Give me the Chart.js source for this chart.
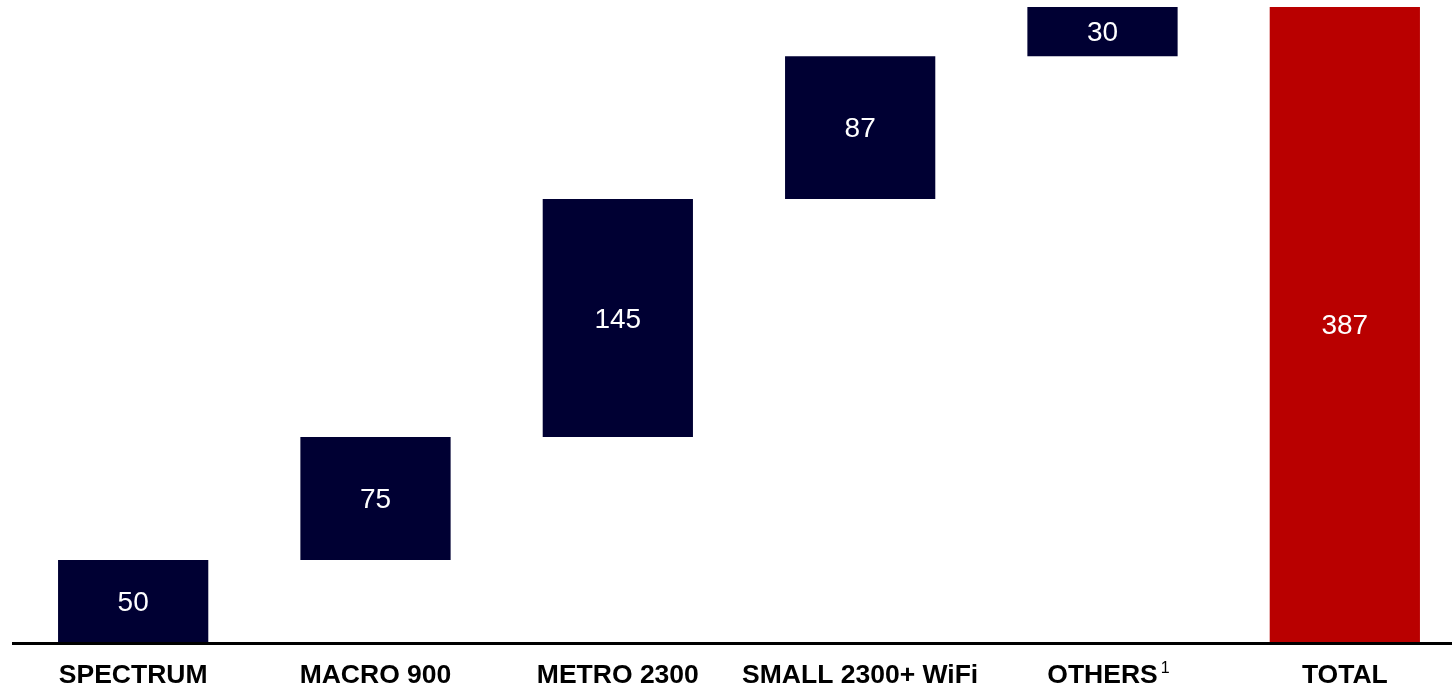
<!DOCTYPE html>
<html>
<head>
<meta charset="utf-8">
<script src="https://cdn.jsdelivr.net/npm/chart.js@4/dist/chart.umd.min.js"></script>
<style>
  html, body { margin:0; padding:0; background:#fff; overflow:hidden; }
  #wrap { width:1466px; height:689px; }
</style>
</head>
<body>
<div id="wrap"><canvas id="waterfall"></canvas></div>
<script>
const categories = ['SPECTRUM', 'MACRO 900', 'METRO 2300', 'SMALL 2300+ WiFi', 'OTHERS', 'TOTAL'];
const increments = [50, 75, 145, 87, 30];
const totalValue = 387;
const valueLabels = ['50', '75', '145', '87', '30', '387'];
const footnotes = ['', '', '', '', '1', ''];

// floating ranges for the waterfall
let run = 0;
const ranges = increments.map(v => { const r = [run, run + v]; run += v; return r; });
ranges.push([0, totalValue]);
const colors = categories.map((c, i) => i === categories.length - 1 ? '#b90000' : '#000033');
const FONT = '"Liberation Sans", Arial, sans-serif';

const overlay = {
  id: 'overlay',
  afterDatasetsDraw(chart) {
    const ctx = chart.ctx, meta = chart.getDatasetMeta(0), xs = chart.scales.x;
    ctx.save();
    ctx.fillStyle = '#ffffff';
    ctx.font = '28px ' + FONT;
    ctx.textAlign = 'center'; ctx.textBaseline = 'middle';
    meta.data.forEach((bar, i) => {
      const yMid = (bar.y + bar.base) / 2;
      ctx.fillText(valueLabels[i], bar.x, yMid + 2);
    });
    // axis line
    ctx.strokeStyle = '#000'; ctx.lineWidth = 3;
    const yb = chart.scales.y.getPixelForValue(0) + 1.5;
    ctx.beginPath(); ctx.moveTo(12, yb); ctx.lineTo(chart.width, yb); ctx.stroke();
    // category labels + superscripts
    ctx.fillStyle = '#000';
    categories.forEach((c, i) => {
      const x = xs.getPixelForValue(i);
      ctx.font = 'bold 26.5px ' + FONT;
      ctx.textAlign = 'center'; ctx.textBaseline = 'alphabetic';
      ctx.fillText(c, x, 683);
      if (footnotes[i]) {
        const w = ctx.measureText(c).width;
        ctx.font = '16px ' + FONT;
        ctx.textAlign = 'left';
        ctx.fillText(footnotes[i], x + w / 2 + 3, 673);
      }
    });
    ctx.restore();
  }
};

new Chart(document.getElementById('waterfall').getContext('2d'), {
  type: 'bar',
  data: { labels: categories, datasets: [{ data: ranges, backgroundColor: colors, borderWidth: 0,
    categoryPercentage: 1, barPercentage: 0.62 }] },
  options: {
    responsive: true, maintainAspectRatio: false, animation: false,
    layout: { padding: { left: 12, top: 7, right: 0, bottom: 47 } },
    plugins: { legend: { display: false }, tooltip: { enabled: false } },
    scales: {
      x: { display: false },
      y: { display: false, min: 0, max: totalValue }
    }
  },
  plugins: [overlay]
});
</script>
</body>
</html>
